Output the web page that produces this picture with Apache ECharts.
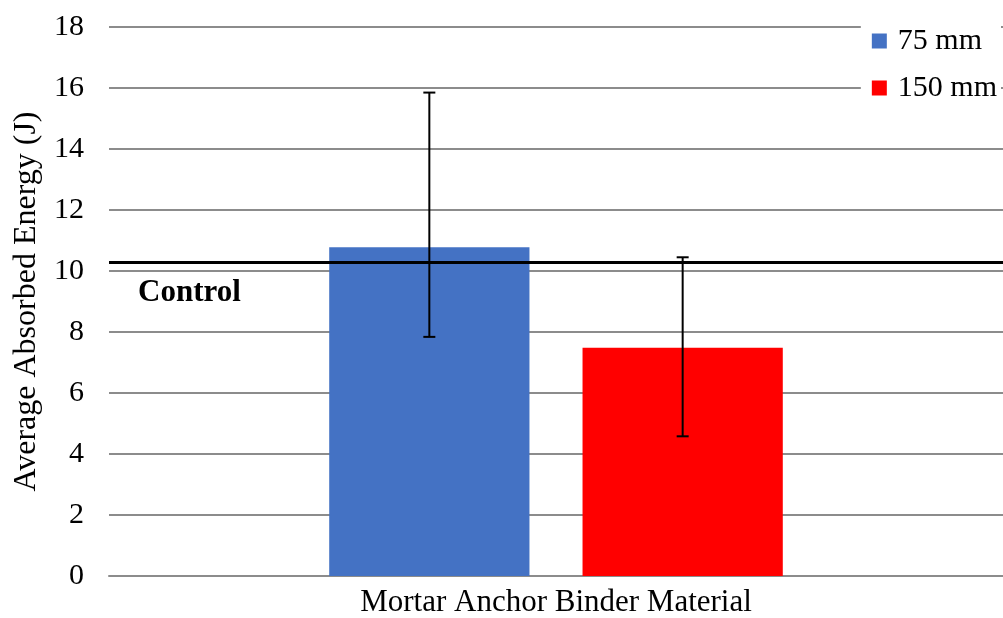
<!DOCTYPE html>
<html><head><meta charset="utf-8">
<script src="https://cdn.jsdelivr.net/npm/echarts@6/dist/echarts.min.js"></script>
<style>html,body{margin:0;padding:0;background:#fff}#c{width:1003px;height:618px}</style>
</head><body><div id="c"></div>
<script>
const categories = ['Mortar Anchor Binder Material'];
const seriesNames = ['75 mm', '150 mm'];
const values75 = [10.78];
const values150 = [7.48];
const err75 = [[7.84, 15.85]];
const err150 = [[4.58, 10.45]];
const controlValue = 10.28;
const colors = ['#4472C4', '#FF0000'];

const FONT = '"Liberation Serif", "Times New Roman", serif';
const BAR_PCT = 0.224, GAP = 0.265;

function errSeries(name, errs, sign) {
  return {
    type: 'custom', name: name + ' err', z: 10, silent: true,
    data: errs.map((e, i) => [i, e[0], e[1]]),
    renderItem: function (params, api) {
      const band = api.size([1, 0])[0];
      const bw = band * BAR_PCT;
      const off = sign * (bw + bw * GAP) / 2;
      const lo = api.coord([api.value(0), api.value(1)]);
      const hi = api.coord([api.value(0), api.value(2)]);
      const x = lo[0] + off, cap = 6;
      const st = { stroke: '#000', lineWidth: 2 };
      return { type: 'group', children: [
        { type: 'line', shape: { x1: x, y1: lo[1], x2: x, y2: hi[1] }, style: st },
        { type: 'line', shape: { x1: x - cap, y1: lo[1], x2: x + cap, y2: lo[1] }, style: st },
        { type: 'line', shape: { x1: x - cap, y1: hi[1], x2: x + cap, y2: hi[1] }, style: st }
      ]};
    }
  };
}

const chart = echarts.init(document.getElementById('c'));
chart.setOption({
  animation: false,
  backgroundColor: '#fff',
  grid: { left: 109, right: 0, top: 27, bottom: 40 },
  legend: {
    data: seriesNames, orient: 'vertical', right: 2, top: 24,
    itemWidth: 15, itemHeight: 15, itemGap: 17, icon: 'rect',
    backgroundColor: '#fff', padding: [2, 4, 2, 11],
    textStyle: { fontFamily: FONT, fontSize: 30, color: '#000', padding: [0, 0, 0, 6] }
  },
  xAxis: {
    type: 'category', data: categories,
    axisLine: { lineStyle: { color: '#8c8c8c', width: 2 } },
    axisTick: { show: false },
    axisLabel: { fontFamily: FONT, fontSize: 31, color: '#000', margin: 11 }
  },
  yAxis: {
    type: 'value', min: 0, max: 18, interval: 2,
    name: 'Average Absorbed Energy (J)', nameLocation: 'middle', nameGap: 66,
    nameTextStyle: { fontFamily: FONT, fontSize: 32, color: '#000' },
    axisLine: { show: false }, axisTick: { show: false },
    axisLabel: { fontFamily: FONT, fontSize: 30, color: '#000', margin: 25 },
    splitLine: { lineStyle: { color: '#8c8c8c', width: 2 } }
  },
  series: [
    { name: seriesNames[0], type: 'bar', data: values75, barWidth: (BAR_PCT * 100) + '%', barGap: (GAP * 100) + '%',
      itemStyle: { color: colors[0] },
      markLine: {
        silent: true, symbol: 'none',
        lineStyle: { color: '#000', width: 3, type: 'solid' },
        label: { show: true, position: 'insideStartBottom', formatter: 'Control', distance: [29, 15],
          fontFamily: FONT, fontSize: 31, fontWeight: 'bold', color: '#000' },
        data: [{ yAxis: controlValue }]
      }
    },
    { name: seriesNames[1], type: 'bar', data: values150, barWidth: (BAR_PCT * 100) + '%', barGap: (GAP * 100) + '%',
      itemStyle: { color: colors[1] } },
    errSeries(seriesNames[0], err75, -1),
    errSeries(seriesNames[1], err150, 1)
  ]
});
</script></body></html>
